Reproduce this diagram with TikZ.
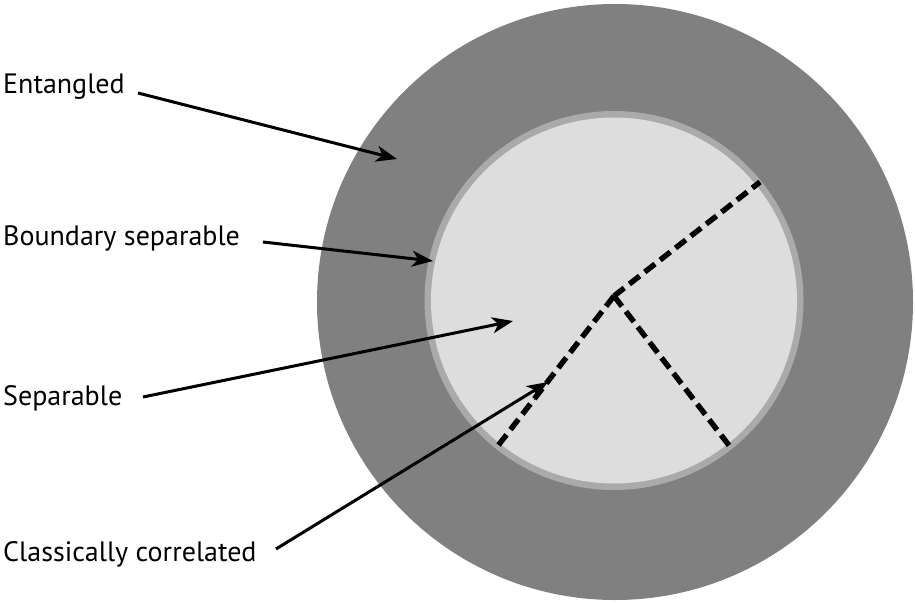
\documentclass[tikz,border=0pt]{standalone}
\usepackage{fontspec}
\setmainfont{PT Sans}
\usetikzlibrary{arrows.meta}
\definecolor{outergray}{RGB}{128,128,128}
\definecolor{ringgray}{RGB}{170,170,170}
\definecolor{innergray}{RGB}{221,221,221}
\tikzset{
  lbl/.style={anchor=base west, inner sep=0pt, font=\fontsize{28}{32}\selectfont},
  pointer/.style={line width=3pt, -{Stealth[length=21pt, width=16pt, inset=6pt]}},
  border/.style={line width=5.4pt, dash pattern=on 13pt off 6.5pt},
}
\begin{document}
\begin{tikzpicture}[x=1pt,y=-1pt]
\useasboundingbox (0,0) rectangle (915,602);
% regions
\fill[outergray] (615,302) circle (298);
\fill[ringgray] (614,300.5) circle (189.5);
\fill[innergray] (614,300.5) circle (183);
% boundaries between classical regions
\coordinate (c) at (614,296);
\coordinate (ur) at (760,182);
\coordinate (lr) at (731,448);
\coordinate (ll) at (497,447);
\draw[border] (c) -- (ur);
\draw[border] (c) -- (lr);
\draw[border] (c) -- (ll);
% labels
\node[lbl] (ent) at (3,93) {Entangled};
\node[lbl] (bsep) at (3,245) {Boundary separable};
\node[lbl] (sep) at (3,405) {Separable};
\node[lbl] (cc) at (3,561.5) {Classically correlated};
% arrow ends
\coordinate (entS) at (138,93);
\coordinate (entT) at (397,159);
\coordinate (bsepS) at (263,242);
\coordinate (bsepT) at (433,261);
\coordinate (sepS) at (143,397);
\coordinate (sepT) at (513,321);
\coordinate (ccS) at (276,549);
\coordinate (ccT) at (548,382);
\draw[pointer] (entS) -- (entT);
\draw[pointer] (bsepS) -- (bsepT);
\draw[pointer] (sepS) -- (sepT);
\draw[pointer] (ccS) -- (ccT);
\end{tikzpicture}
\end{document}
